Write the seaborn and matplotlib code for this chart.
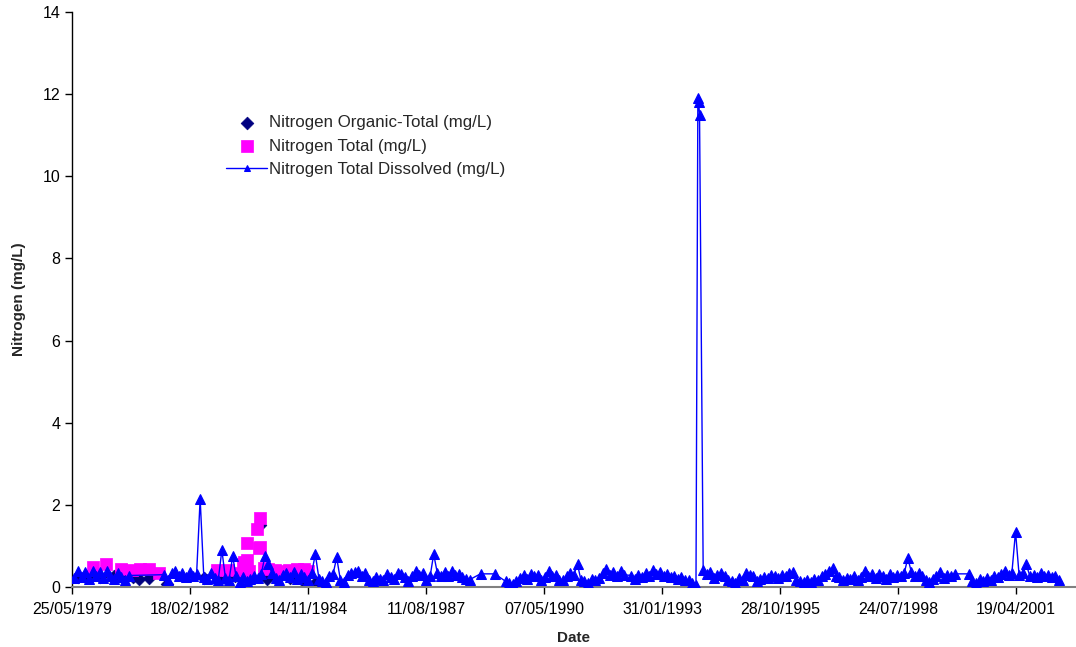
import numpy as np
import pandas as pd
import matplotlib
matplotlib.use("Agg")
import matplotlib.pyplot as plt
import matplotlib.dates as mdates
import seaborn as sns

# ---- Nitrogen Total Dissolved (mg/L), monthly samples from Jun 1979 (None = not sampled)
tdn_values = [
    # 1979 (Jun-Dec)
    0.22, 0.40, 0.25, 0.36, 0.20, 0.38, 0.26,
    # 1980
    0.36, 0.22, 0.38, 0.27, 0.20, 0.34, 0.24, 0.18, 0.28, None, None, None,
    # 1981
    None, None, None, None, None, None, 0.30, 0.18, 0.34, 0.38, 0.26, 0.33,
    # 1982
    0.24, 0.36, 0.26, 0.32, 2.15, 0.24, 0.20, 0.33, 0.22, 0.16, 0.90, 0.22,
    # 1983
    0.18, 0.75, 0.26, 0.13, 0.24, 0.15, 0.20, 0.28, 0.22, 0.32, 0.75, 0.55,
    # 1984
    0.33, 0.22, 0.18, 0.30, 0.34, 0.24, 0.36, 0.20, 0.32, 0.24, 0.18, 0.34,
    # 1985
    0.80, 0.20, 0.14, 0.12, 0.26, 0.32, 0.72, 0.18, 0.12, 0.30, 0.34, 0.36,
    # 1986
    0.38, 0.28, 0.34, 0.18, 0.15, 0.24, 0.20, 0.16, 0.32, 0.24, 0.20, 0.35,
    # 1987
    0.32, 0.24, 0.14, 0.28, 0.38, 0.30, 0.34, 0.18, 0.26, 0.80, 0.34, 0.26,
    # 1988
    0.36, 0.28, 0.38, 0.30, 0.32, 0.24, 0.20, 0.18, None, None, 0.32, None,
    # 1989
    None, None, 0.32, None, None, 0.14, 0.10, 0.08, 0.14, 0.22, 0.30, 0.20,
    # 1990
    0.32, 0.26, 0.30, 0.16, 0.24, 0.38, 0.26, 0.30, 0.18, 0.16, 0.28, 0.34,
    # 1991
    0.30, 0.55, 0.18, 0.14, 0.10, 0.20, 0.16, 0.22, 0.34, 0.45, 0.30, 0.36,
    # 1992
    0.28, 0.38, 0.30, None, 0.28, 0.20, 0.30, 0.24, 0.34, 0.26, 0.42, 0.32,
    # 1993
    0.36, 0.26, 0.32, 0.24, 0.28, 0.20, 0.24, 0.16, 0.18, 0.10, 0.05, None,
    # 1994
    0.42, 0.32, 0.36, 0.22, 0.30, 0.34, 0.28, 0.18, 0.14, 0.10, 0.22, 0.18,
    # 1995
    0.34, 0.30, 0.26, 0.14, 0.20, 0.24, 0.22, 0.30, 0.26, 0.22, 0.30, 0.26,
    # 1996
    0.34, 0.36, 0.16, 0.14, 0.12, 0.18, 0.13, 0.20, 0.18, 0.26, 0.32, 0.38,
    # 1997
    0.46, 0.28, 0.24, 0.16, 0.22, 0.20, 0.27, 0.18, 0.24, 0.40, 0.26, 0.32,
    # 1998
    0.22, 0.32, 0.26, 0.20, 0.32, 0.24, 0.30, 0.28, 0.34, 0.70, 0.36, 0.28,
    # 1999
    0.34, 0.26, 0.18, 0.13, 0.20, 0.28, 0.36, 0.22, 0.30, 0.26, 0.32, None,
    # 2000
    None, None, 0.32, 0.14, 0.10, 0.20, 0.14, 0.22, 0.18, 0.28, 0.24, 0.32,
    # 2001
    0.38, 0.30, 0.34, 1.35, 0.30, 0.34, 0.55, 0.26, 0.30, 0.24, 0.34, 0.26,
    # 2002
    0.30, 0.24, 0.26, 0.18,
]
tdn_first_month = "1979-06-01"

# Additional Total Dissolved samples during the December 1993 event
tdn_extra_dates = ["1993-12-01", "1993-12-08", "1993-12-15"]
tdn_extra_values = [11.9, 11.8, 11.5]

# ---- Nitrogen Total (mg/L)
tn_dates = ["1979-11-20", "1980-03-05", "1980-07-10", "1980-10-15", "1980-12-20",
            "1981-03-10", "1981-06-01", "1982-10-05", "1983-01-10", "1983-04-20",
            "1983-05-10", "1983-05-25", "1983-06-10", "1983-06-20", "1983-07-05",
            "1983-06-15", "1983-09-10", "1983-10-01", "1983-10-05", "1983-09-25",
            "1983-11-05", "1983-12-10", "1984-02-10", "1984-04-10", "1984-06-10",
            "1984-08-10", "1984-10-10", "1984-11-15"]
tn_values = [0.49, 0.56, 0.44, 0.41, 0.44,
             0.44, 0.33, 0.41, 0.41, 0.35,
             0.55, 0.62, 0.50, 0.65, 0.40,
             1.08, 1.41, 1.68, 0.98, 0.95,
             0.47, 0.45, 0.42, 0.40, 0.42,
             0.44, 0.43, 0.40]

# ---- Nitrogen Organic-Total (mg/L)
ton_dates = ["1979-07-15", "1979-10-10", "1980-01-20", "1980-05-15", "1980-08-20",
             "1980-10-20", "1980-12-15", "1981-03-05", "1981-08-10", "1982-06-15",
             "1982-11-20", "1983-03-10", "1983-06-20", "1983-10-08", "1983-12-01",
             "1984-03-01", "1984-06-15", "1984-09-20", "1985-01-20"]
ton_values = [0.25, 0.28, 0.24, 0.26, 0.22,
              0.24, 0.20, 0.23, 0.07, 0.22,
              0.25, 0.28, 0.30, 1.50, 0.20,
              0.25, 0.22, 0.18, 0.12]

# Axis settings
axis_start = "1979-05-25"
tick_step_days = 1000
axis_span_days = 8500
y_ticks = [0, 2, 4, 6, 8, 10, 12, 14]

# ---- Build tables
monthly_dates = pd.date_range(tdn_first_month, periods=len(tdn_values), freq="MS") + pd.Timedelta(days=14)
tdn = pd.DataFrame({"date": monthly_dates, "value": tdn_values})
tdn = pd.concat([tdn, pd.DataFrame({"date": pd.to_datetime(tdn_extra_dates), "value": tdn_extra_values})])
tdn = tdn.dropna().sort_values("date").reset_index(drop=True)
tdn["value"] = tdn["value"].astype(float)

tn = pd.DataFrame({"date": pd.to_datetime(tn_dates), "value": tn_values})
ton = pd.DataFrame({"date": pd.to_datetime(ton_dates), "value": ton_values})

# ---- Plot
sns.set_theme(style="white")
plt.rcParams["font.family"] = ["Liberation Sans", "DejaVu Sans"]

fig = plt.figure(figsize=(10.76, 6.47), dpi=100)
ax = fig.add_axes([72 / 1076, 1 - 587 / 647, 1003 / 1076, 575 / 647])

sns.scatterplot(data=ton, x="date", y="value", ax=ax, marker="D", s=42,
                color="#000080", edgecolor="#000080", linewidth=0.5,
                label="Nitrogen Organic-Total (mg/L)", zorder=2)
sns.scatterplot(data=tn, x="date", y="value", ax=ax, marker="s", s=75,
                color="#FF00FF", edgecolor="#FF00FF", linewidth=0.5,
                label="Nitrogen Total (mg/L)", zorder=3)
sns.lineplot(data=tdn, x="date", y="value", ax=ax, color="#0000FF", linewidth=1.0,
             marker="^", markersize=7.5, markeredgecolor="#0000FF",
             markerfacecolor="#0000FF", estimator=None, sort=True,
             label="Nitrogen Total Dissolved (mg/L)", zorder=4)

start = pd.Timestamp(axis_start)
ax.set_xlim(start, start + pd.Timedelta(days=axis_span_days))
ticks = [start + pd.Timedelta(days=tick_step_days * k) for k in range(9)]
ax.set_xticks(ticks)
ax.xaxis.set_major_formatter(mdates.DateFormatter("%d/%m/%Y"))
ax.set_ylim(0, 14)
ax.set_yticks(y_ticks)

for side in ("top", "right"):
    ax.spines[side].set_visible(False)
ax.spines["bottom"].set_color("#808080")
ax.spines["bottom"].set_linewidth(1.5)
ax.spines["left"].set_color("#000000")
ax.spines["left"].set_linewidth(1.0)

ax.tick_params(axis="both", which="major", direction="out", length=5, width=1,
               color="#000000", labelsize=11.5, labelcolor="#000000", bottom=True, left=True)
ax.tick_params(axis="x", pad=6)

ax.set_xlabel("Date", fontsize=11, fontweight="bold", labelpad=10)
ax.set_ylabel("Nitrogen (mg/L)", fontsize=11, fontweight="bold", labelpad=12)

leg = ax.legend(loc="upper left", bbox_to_anchor=(218 / 1076, 1 - 107 / 647),
                bbox_transform=fig.transFigure, frameon=False, fontsize=12.2,
                handlelength=2.4, handletextpad=0.1, labelspacing=0.5,
                borderpad=0, numpoints=1)
for h in leg.legend_handles:
    try:
        h.set_markersize(5)
    except AttributeError:
        pass

fig.savefig("out.png", dpi=100)
